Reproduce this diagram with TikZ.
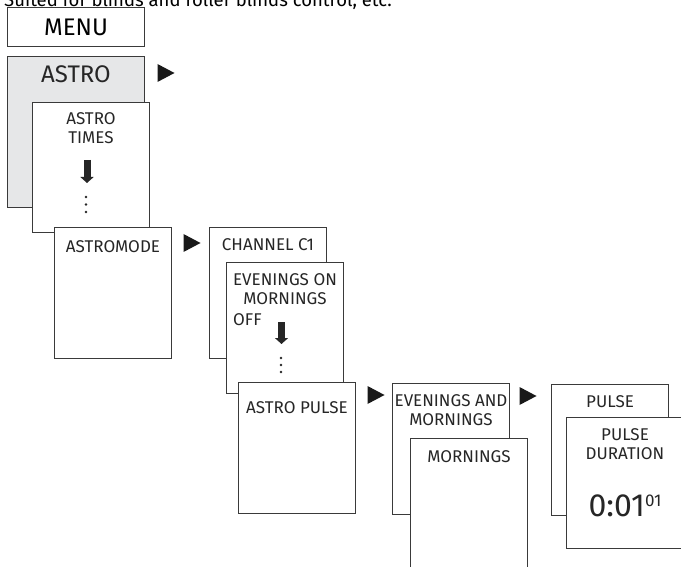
\documentclass[tikz,border=0pt]{standalone}
\usepackage{fontspec}
\setmainfont{Fira Sans}
\usepackage{tikz}
\usetikzlibrary{arrows.meta,positioning}

\definecolor{panelgray}{HTML}{E6E7E8}
\definecolor{edgegray}{HTML}{3A3A3A}

\begin{document}
\begin{tikzpicture}[
  x=1pt, y=-1pt,
  font=\fontsize{17}{19}\selectfont,
  panel/.style={
    draw=edgegray, line width=1pt, fill=white, anchor=north west,
    inner sep=0pt, minimum width=117pt, minimum height=131pt
  },
  bigpanel/.style={panel, minimum width=137pt},
  boxtext/.style={inner sep=0pt, align=center, text=black!85},
  bigtext/.style={boxtext, font=\fontsize{24}{28}\selectfont},
  playmark/.pic={\fill[black!90] (-8.5pt,9pt) -- (8.5pt,0pt) -- (-8.5pt,-9pt) -- cycle;},
  godown/.style={line width=7pt, draw=black!85, -{Triangle[width=13pt, length=6pt]}},
  dotmark/.style={fill=black!85}
]
  \useasboundingbox (0,0) rectangle (681,567);
  \clip (0,0) rectangle (681,567);

  % heading, cut by the page edge
  \node[anchor=base west, inner sep=0pt, font=\fontsize{18.5}{21}\selectfont] (intro)
    at (4,6.5) {Suited for blinds and roller blinds control, etc.};

  \node[bigpanel, minimum height=39pt, font=\fontsize{24}{28}\selectfont] (menu) at (7,7) {MENU};

  \node[bigpanel, fill=panelgray, minimum height=151pt] (astro) at (7,56) {};
  \node[bigtext, below=9pt of astro.north] (astroT) {ASTRO};
  \pic (go1) at (166,73) {playmark};

  \node[panel, minimum height=130pt] (times) at (32,102) {};
  \node[boxtext, below=10pt of times.north] (timesT) {ASTRO\\TIMES};
  \coordinate (timesA) at (87,160);
  \coordinate (timesB) at (87,183);
  \draw[godown] (timesA) -- (timesB);
  \foreach \y in {197,204.5,212}
    \fill[dotmark] (86,\y) circle (1.4pt);

  \node[panel] (mode) at (54,227) {};
  \node[boxtext, below=13pt of mode.north] (modeT) {ASTROMODE};
  \pic (go2) at (192,243) {playmark};

  \node[panel] (chan) at (209,227) {};
  \node[boxtext, below=11pt of chan.north] (chanT) {CHANNEL C1};

  \node[panel] (eve) at (226,262) {};
  \node[boxtext, below=11pt of eve.north] (eveT) {EVENINGS ON\\MORNINGS};
  \node[boxtext, anchor=north west] (eveOff) at (233,313) {OFF};
  \coordinate (eveA) at (281.5,322);
  \coordinate (eveB) at (281.5,344);
  \draw[godown] (eveA) -- (eveB);
  \foreach \y in {358,365,372}
    \fill[dotmark] (281,\y) circle (1.4pt);

  \node[panel] (pulseA) at (238,382) {};
  \node[boxtext, below=19pt of pulseA.north] (pulseAT) {ASTRO PULSE};
  \pic (go3) at (376,395) {playmark};

  \node[panel] (both) at (392,383) {};
  \node[boxtext, below=11pt of both.north] (bothT) {EVENINGS AND\\MORNINGS};
  \node[panel] (morn) at (410,438) {};
  \node[boxtext, below=12pt of morn.north] (mornT) {MORNINGS};
  \pic (go4) at (528,396) {playmark};

  \node[panel] (pulse) at (551,384) {};
  \node[boxtext, below=11pt of pulse.north] (pulseT) {PULSE};
  \node[panel] (dur) at (566,417) {};
  \node[boxtext, below=11pt of dur.north] (durT) {PULSE\\DURATION};
  \node[boxtext, below=78pt of dur.north, font=\fontsize{32}{32}\selectfont] (durV)
    {0:01\raisebox{10pt}{\fontsize{17}{17}\selectfont 01}};
\end{tikzpicture}
\end{document}
